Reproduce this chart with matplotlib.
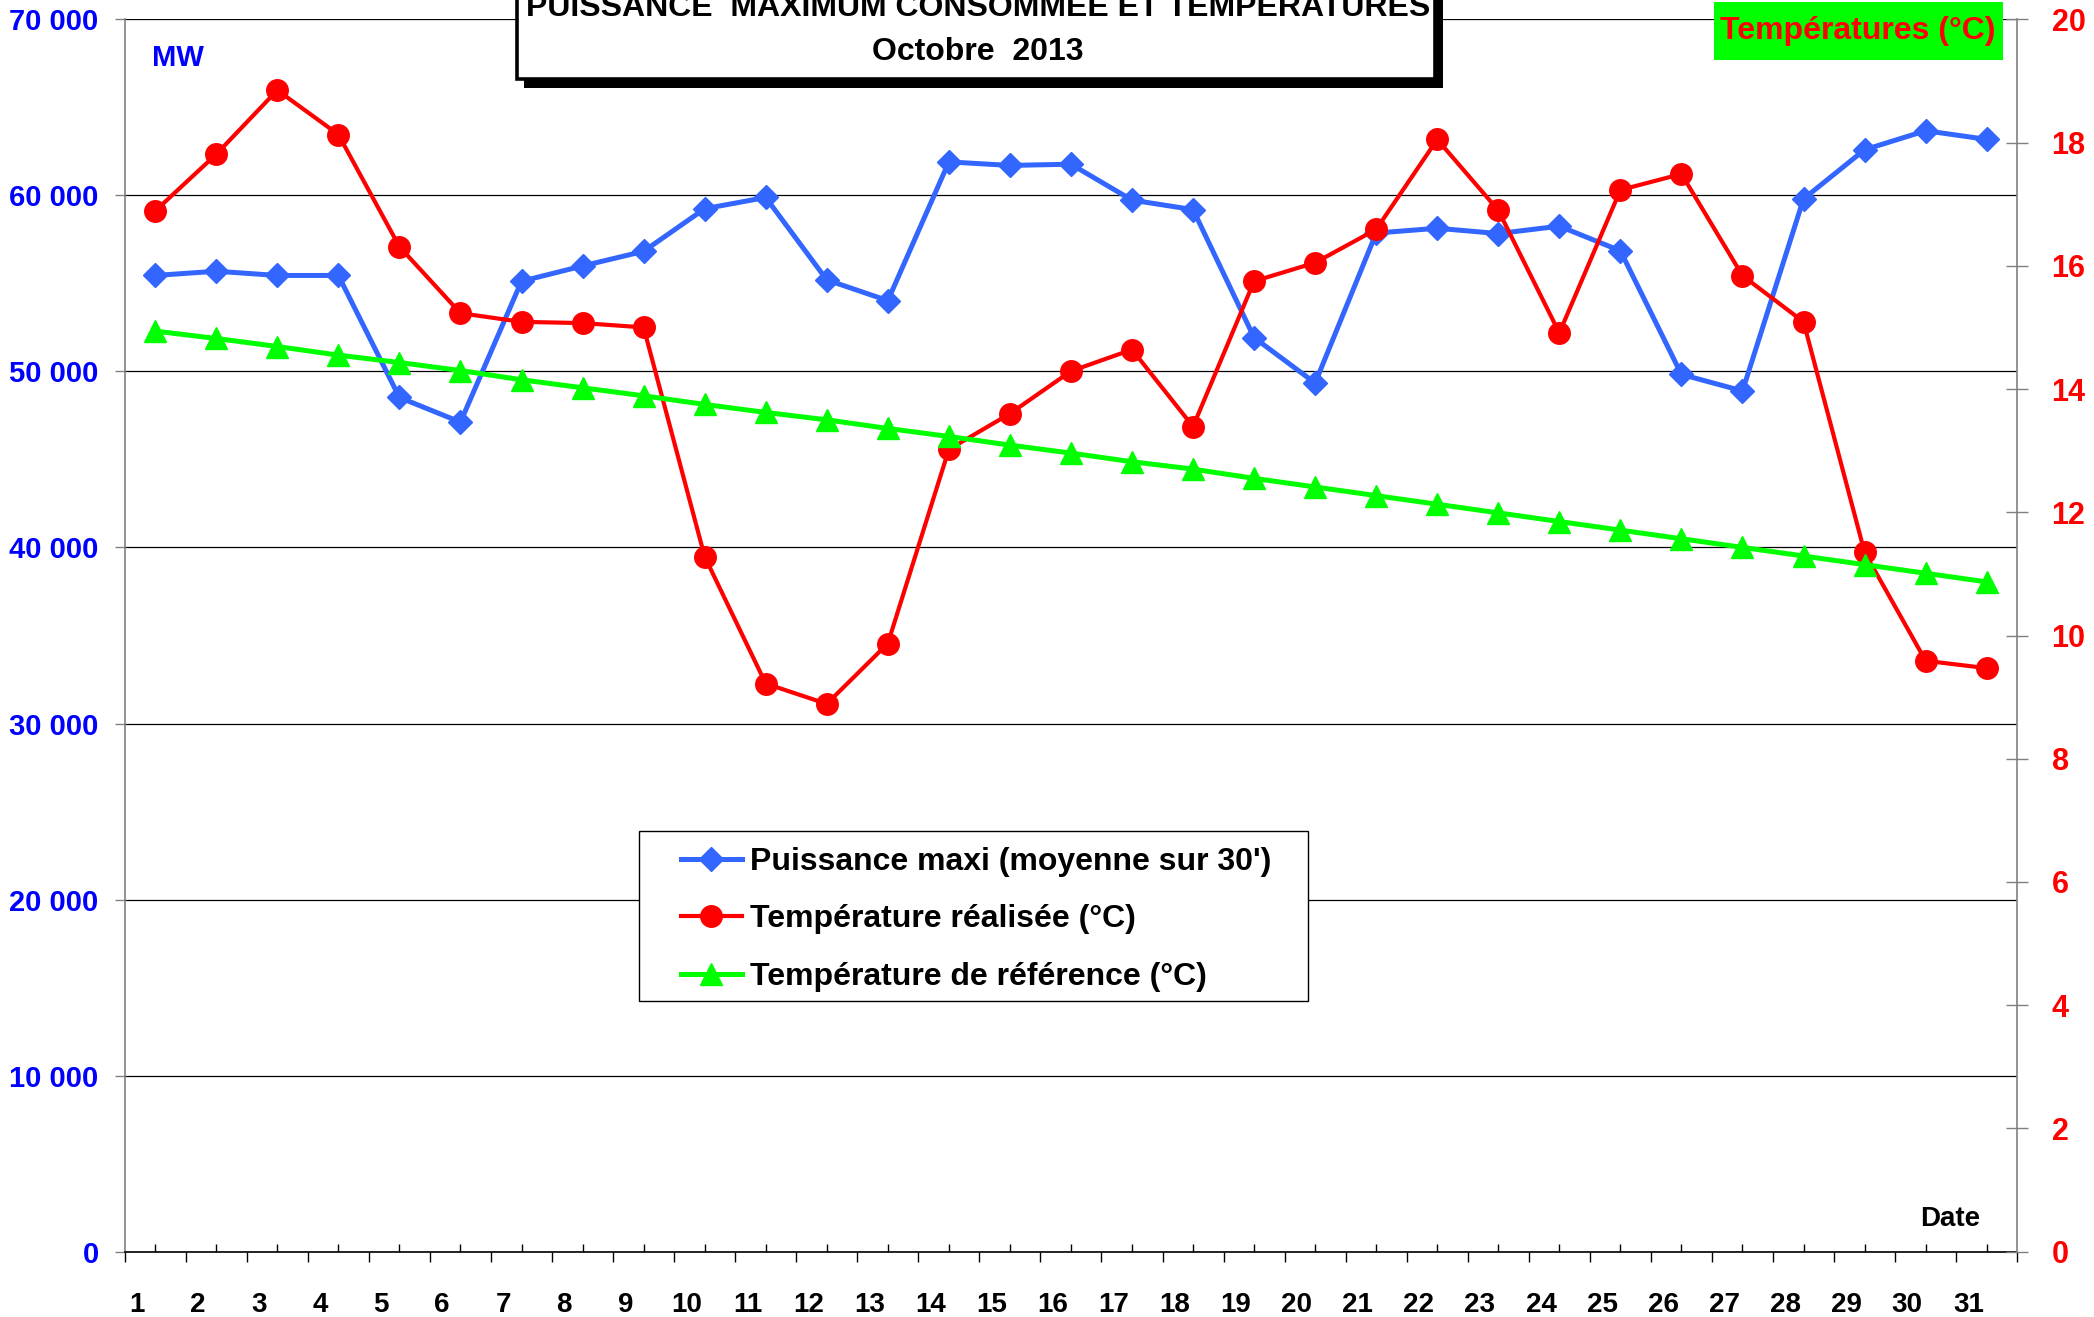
import matplotlib
matplotlib.use("Agg")
import matplotlib.pyplot as plt
from matplotlib.patches import Rectangle
from matplotlib.ticker import FuncFormatter
from matplotlib.transforms import blended_transform_factory
import numpy as np

plt.rcParams['font.family'] = ['Liberation Sans', 'DejaVu Sans']
plt.rcParams['font.weight'] = 'bold'

# données (octobre 2013)
jours = list(range(1, 32))
puissance = [55450, 55690, 55450, 55450, 48520, 47120, 55120, 55990, 56820, 59240,
             59880, 55200, 54020, 61900, 61700, 61770, 59730, 59190, 51920, 49340,
             57860, 58130, 57830, 58250, 56850, 49830, 48890, 59800, 62590, 63670, 63180]
temp_realisee = [16.89, 17.81, 18.85, 18.13, 16.31, 15.23, 15.09, 15.07, 15.00, 11.28,
                 9.22, 8.89, 9.87, 13.02, 13.60, 14.29, 14.64, 13.39, 15.75, 16.05,
                 16.59, 18.05, 16.90, 14.91, 17.23, 17.49, 15.84, 15.09, 11.35, 9.59, 9.47]
temp_reference = [14.94, 14.82, 14.69, 14.55, 14.43, 14.30, 14.15, 14.02, 13.89, 13.75,
                  13.62, 13.50, 13.36, 13.23, 13.09, 12.96, 12.82, 12.70, 12.55, 12.41,
                  12.27, 12.13, 11.99, 11.85, 11.71, 11.57, 11.43, 11.29, 11.15, 11.01, 10.87]

noms_series = ["Puissance maxi (moyenne sur 30')", "Température réalisée (°C)",
               "Température de référence (°C)"]
ticks_mw = list(range(0, 70001, 10000))
ticks_temp = list(range(0, 21, 2))

W, H = 2094, 1317
fig = plt.figure(figsize=(W / 100, H / 100), dpi=100)


def fx(px):
    return px / W


def fy(py):
    return 1 - py / H


ax = fig.add_axes([fx(124.7), fy(1251.7), (2017.2 - 124.7) / W, (1251.7 - 19.3) / H])
ax2 = ax.twinx()

l1, = ax.plot(jours, puissance, color='#3366FF', lw=3.6, marker='D', ms=12, zorder=3)
l2, = ax2.plot(jours, temp_realisee, color='#FF0000', lw=3, marker='o', ms=15.5, zorder=3)
l3, = ax2.plot(jours, temp_reference, color='#00FF00', lw=3.6, marker='^', ms=15.5, zorder=4)

ax.set_xlim(0.5, 31.5)
ax.set_ylim(0, 70000)
ax2.set_ylim(0, 20)

# axes et graduations
for a in (ax, ax2):
    a.spines['top'].set_visible(False)
ax.spines['right'].set_visible(False)
ax2.spines['left'].set_visible(False)
ax2.spines['bottom'].set_visible(False)
ax.spines['left'].set_color('#808080')
ax.spines['left'].set_linewidth(1.2)
ax2.spines['right'].set_color('#808080')
ax2.spines['right'].set_linewidth(1.2)
ax.spines['bottom'].set_color('black')
ax.spines['bottom'].set_linewidth(1.2)

ax.set_yticks(ticks_mw)
ax.yaxis.set_major_formatter(FuncFormatter(lambda v, p: f"{int(v):,}".replace(",", " ")))
ax.tick_params(axis='y', direction='out', length=7.2, width=1, color='#808080',
               labelcolor='#0000FF', labelsize=21, pad=11.5)
ax.yaxis.grid(True, color='black', lw=0.9)

ax2.set_yticks(ticks_temp)
ax2.tick_params(axis='y', direction='inout', length=15.5, width=1, color='#808080',
                labelcolor='#FF0000', labelsize=22, pad=17)

ax.set_xticks(np.arange(0.5, 32, 1))
ax.set_xticks(jours, minor=True)
ax.tick_params(axis='x', which='major', direction='out', length=7.2, width=1,
               color='black', labelbottom=False)
ax.tick_params(axis='x', which='minor', direction='in', length=5.5, width=1,
               color='black', labelbottom=False)

trans = blended_transform_factory(ax.transData, fig.transFigure)
for d in jours:
    ax.text(d - 0.3, fy(1305), str(d), transform=trans, ha='center', va='center',
            fontsize=20, fontweight='bold', clip_on=False)

fig.text(fx(178), fy(58.5), 'MW', color='#0000FF', fontsize=21, ha='center', va='center')
fig.text(fx(1950), fy(1219), 'Date', color='black', fontsize=20, ha='center', va='center')

# étiquette des températures
fig.add_artist(Rectangle((fx(1714), fy(60)), (2002.7 - 1714) / W, (60 - 1.7) / H,
                         transform=fig.transFigure, fc='#00FF00', ec='none', zorder=5))
fig.text(fx(1858), fy(31), 'Températures (°C)', color='#FF0000', fontsize=23,
         ha='center', va='center', zorder=6)

# cadre du titre avec ombre
fig.add_artist(Rectangle((fx(524), fy(88)), 919 / W, 110 / H, transform=fig.transFigure,
                         fc='black', ec='none', zorder=5))
fig.add_artist(Rectangle((fx(517), fy(79)), 918 / W, 110 / H, transform=fig.transFigure,
                         fc='white', ec='black', lw=2.6, zorder=5.1))
fig.text(fx(978), fy(16), 'PUISSANCE  MAXIMUM CONSOMMEE ET TEMPERATURES', fontsize=23,
         ha='center', va='baseline', zorder=6)
fig.text(fx(978), fy(60), 'Octobre  2013', fontsize=23, ha='center', va='baseline', zorder=6)

# légende
fig.add_artist(Rectangle((fx(639), fy(1001)), (1307.5 - 639) / W, (1001 - 831) / H,
                         transform=fig.transFigure, fc='white', ec='black', lw=1, zorder=5))
leg = fig.legend([l1, l2, l3], noms_series, loc='upper left',
                 bbox_to_anchor=(fx(681), fy(847)), frameon=False, fontsize=23,
                 handlelength=1.9, handletextpad=0.25, labelspacing=0.86,
                 borderpad=0, borderaxespad=0)
leg.set_zorder(6)

fig.savefig('out.png', dpi=100)
